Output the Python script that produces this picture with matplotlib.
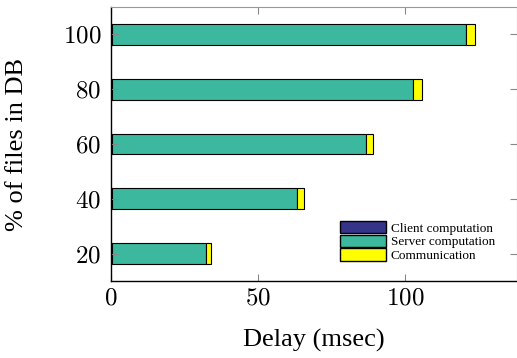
import matplotlib.pyplot as plt
import numpy as np
from matplotlib.patches import Patch

plt.rcParams['mathtext.fontset'] = 'cm'
plt.rcParams['font.family'] = ['Liberation Serif', 'DejaVu Serif']

# data
pct_files = [20, 40, 60, 80, 100]
client_ms = [0.2, 0.2, 0.2, 0.2, 0.2]
server_ms = [32.0, 63.1, 86.5, 102.5, 120.4]
comm_ms = [1.9, 2.2, 2.5, 2.9, 3.1]
tick_x = [0, 50, 100]

c_client = '#35338a'
c_server = '#3bb89d'
c_comm = '#ffff00'

fig = plt.figure(figsize=(5.17, 3.58), dpi=100)
ax = fig.add_axes([0.2147, 0.2151, 0.7853, 0.7653])

h = 7.6
left = np.zeros(len(pct_files))
for vals, col in [(client_ms, c_client), (server_ms, c_server), (comm_ms, c_comm)]:
    ax.barh(pct_files, vals, height=h, left=left, color=col,
            edgecolor='black', linewidth=0.8)
    left = left + np.array(vals)

ax.set_xlim(0, 138)
ax.set_ylim(10, 110)
ax.set_xticks(tick_x)
ax.set_xticklabels([f'${t}$' for t in tick_x], fontsize=18)
ax.set_yticks(pct_files)
ax.set_yticklabels([f'${p}$' for p in pct_files], fontsize=18)
ax.tick_params(direction='in', top=True, right=True, length=5,
               color='#888888', width=0.8)
ax.tick_params(axis='x', pad=5)
ax.tick_params(axis='y', pad=7)

for s in ['left', 'bottom']:
    ax.spines[s].set_color('black')
    ax.spines[s].set_linewidth(1.0)
for s in ['top', 'right']:
    ax.spines[s].set_color('#999999')
    ax.spines[s].set_linewidth(0.8)

ax.set_xlabel('Delay (msec)', fontsize=19)
ax.set_ylabel('% of files in DB', fontsize=19)
ax.yaxis.set_label_coords(-0.205, 0.5)
ax.xaxis.set_label_coords(0.5, -0.175)

handles = [Patch(facecolor=c_client, edgecolor='black', label='Client computation'),
           Patch(facecolor=c_server, edgecolor='black', label='Server computation'),
           Patch(facecolor=c_comm, edgecolor='black', label='Communication')]
ax.legend(handles=handles, loc='lower right', bbox_to_anchor=(0.962, 0.044),
          fontsize=9.5, frameon=False, handlelength=3.5, handleheight=1.12,
          labelspacing=0.0, handletextpad=0.35, borderpad=0.0)

fig.savefig('out.png', dpi=100)
